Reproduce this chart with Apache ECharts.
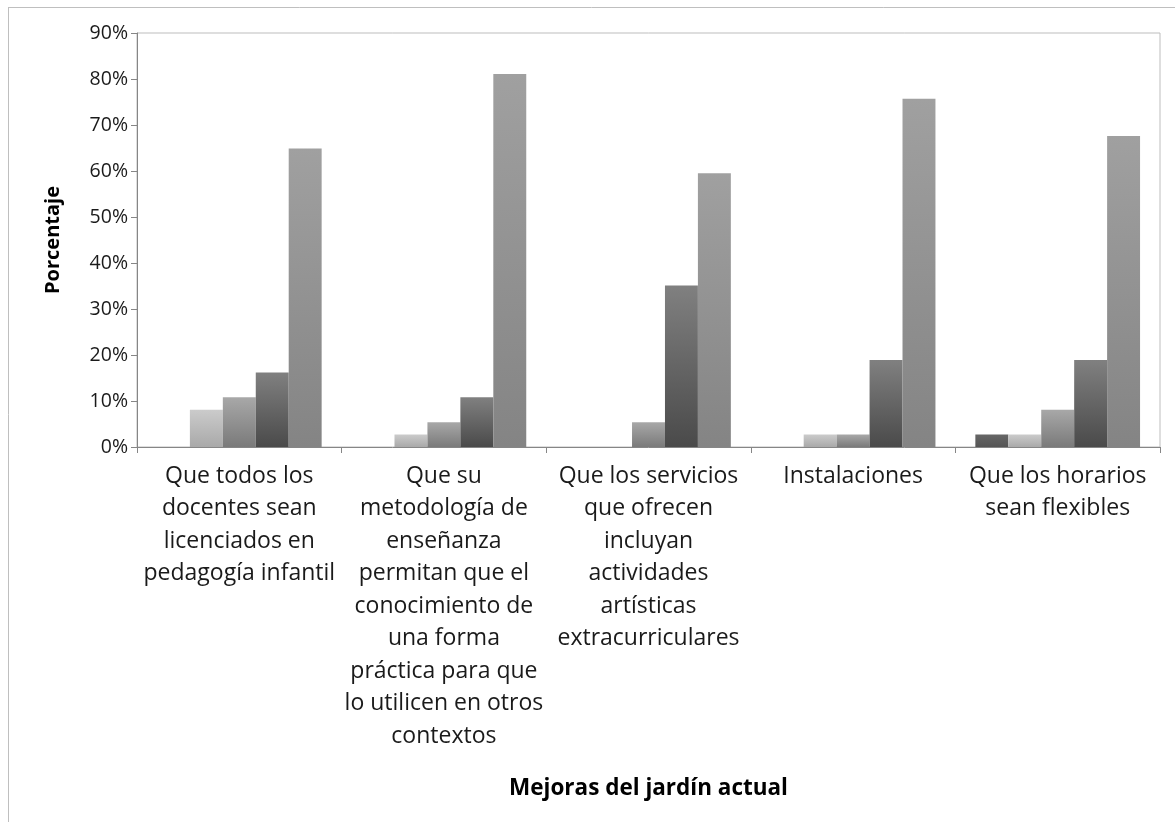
<!DOCTYPE html>
<html>
<head>
<meta charset="utf-8">
<script src="https://cdn.jsdelivr.net/npm/echarts@6/dist/echarts.min.js"></script>
<style>
html,body{margin:0;padding:0;background:#fff;}
#chart{width:1175px;height:822px;}
</style>
</head>
<body>
<div id="chart"></div>
<script>
const categories = [
  'Que todos los\ndocentes sean\nlicenciados en\npedagogía infantil',
  'Que su\nmetodología de\nenseñanza\npermitan que el\nconocimiento de\nuna forma\npráctica para que\nlo utilicen en otros\ncontextos',
  'Que los servicios\nque ofrecen\nincluyan\nactividades\nartísticas\nextracurriculares',
  'Instalaciones',
  'Que los horarios\nsean flexibles'
];
const serie1 = [0, 0, 0, 0, 2.7];
const serie2 = [8.1, 2.7, 0, 2.7, 2.7];
const serie3 = [10.8, 5.4, 5.4, 2.7, 8.1];
const serie4 = [16.2, 10.8, 35.1, 18.9, 18.9];
const serie5 = [64.9, 81.1, 59.5, 75.7, 67.6];
const yTicks = [0, 10, 20, 30, 40, 50, 60, 70, 80, 90];

const FONT = '"Open Sans"';
function grad(top, bottom) {
  return new echarts.graphic.LinearGradient(0, 0, 0, 1, [
    {offset: 0, color: top}, {offset: 1, color: bottom}
  ]);
}
const seriesDefs = [
  {name: 'Serie 1', data: serie1, color: grad('#666666', '#555555')},
  {name: 'Serie 2', data: serie2, color: grad('#cbcbcb', '#a9a9a9')},
  {name: 'Serie 3', data: serie3, color: grad('#a8a8a8', '#7a7a7a')},
  {name: 'Serie 4', data: serie4, color: grad('#808080', '#4a4a4a')},
  {name: 'Serie 5', data: serie5, color: grad('#a0a0a0', '#848484')}
];

const chart = echarts.init(document.getElementById('chart'), null, {renderer: 'canvas'});
chart.setOption({
  animation: false,
  backgroundColor: '#ffffff',
  graphic: [
    {type: 'line', shape: {x1: 8, y1: 7.5, x2: 1175, y2: 7.5}, style: {stroke: '#bfbfbf', lineWidth: 1}},
    {type: 'line', shape: {x1: 8.5, y1: 7, x2: 8.5, y2: 822}, style: {stroke: '#bfbfbf', lineWidth: 1}}
  ],
  grid: {
    left: 137, right: 15, top: 33, bottom: 375,
    show: true, borderColor: '#bdbdbd', borderWidth: 1, backgroundColor: 'transparent'
  },
  xAxis: {
    type: 'category',
    data: categories,
    name: 'Mejoras del jardín actual',
    nameLocation: 'middle',
    nameGap: 330,
    nameTextStyle: {fontFamily: FONT, fontSize: 22.5, fontWeight: 'bold', color: '#000'},
    axisLine: {lineStyle: {color: '#868686', width: 1}},
    axisTick: {show: true, length: 6, lineStyle: {color: '#868686'}},
    axisLabel: {
      interval: 0, margin: 13, fontFamily: FONT, fontSize: 23, color: '#1a1a1a',
      lineHeight: 32.5, align: 'center'
    }
  },
  yAxis: {
    type: 'value',
    min: 0, max: 90, interval: 10,
    name: 'Porcentaje',
    nameLocation: 'middle',
    nameGap: 74,
    nameRotate: 90,
    nameTextStyle: {fontFamily: FONT, fontSize: 20, fontWeight: 'bold', color: '#000'},
    axisLine: {show: true, lineStyle: {color: '#868686', width: 1}},
    axisTick: {show: true, length: 6, lineStyle: {color: '#868686'}},
    splitLine: {show: false},
    axisLabel: {
      margin: 9, fontFamily: FONT, fontSize: 19.5, color: '#1a1a1a',
      formatter: v => yTicks.includes(v) ? v + '%' : ''
    }
  },
  series: seriesDefs.map(s => ({
    name: s.name,
    type: 'bar',
    data: s.data,
    barGap: '0%',
    barCategoryGap: '19.5%',
    itemStyle: {color: s.color, borderWidth: 0}
  }))
});
</script>
</body>
</html>
